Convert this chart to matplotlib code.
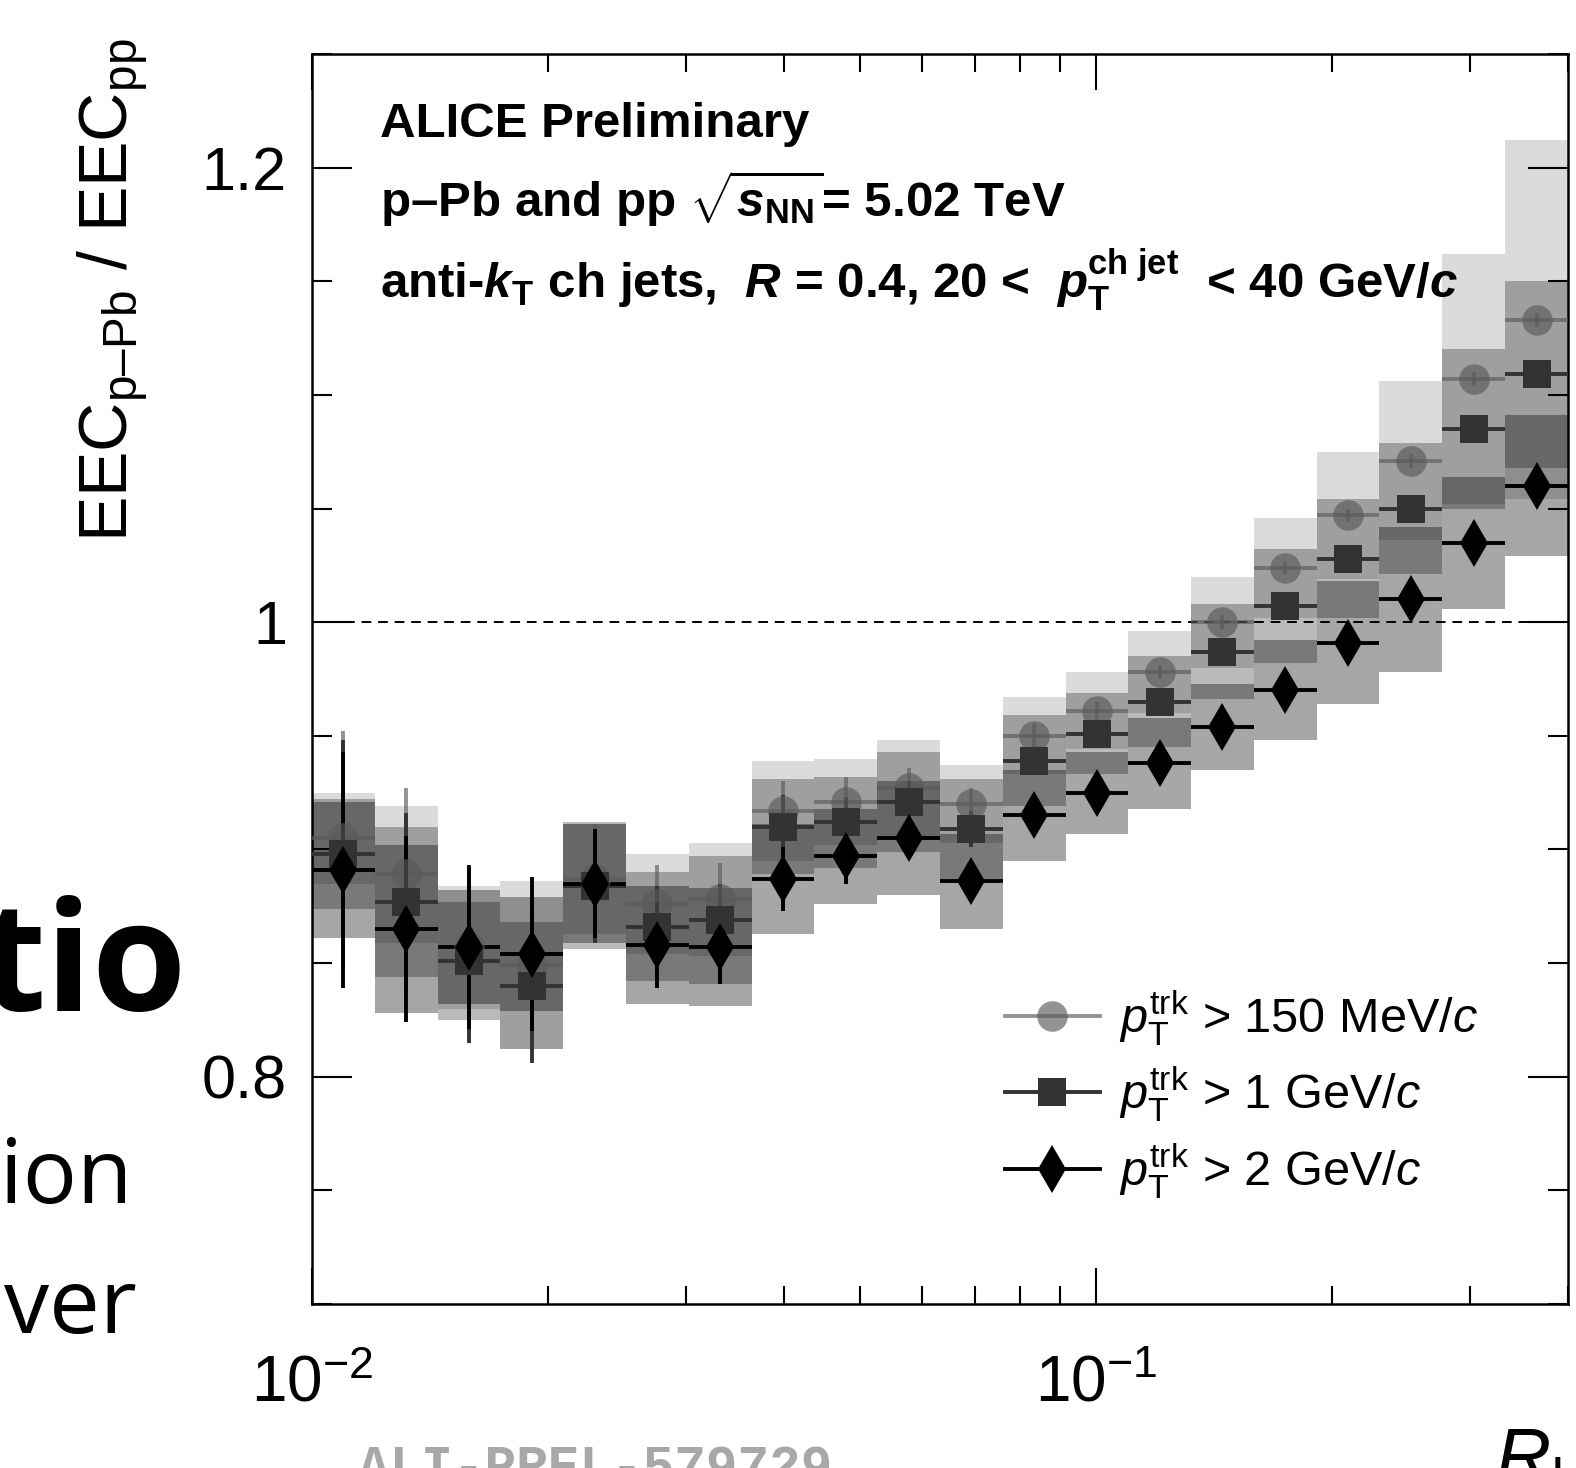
import numpy as np
import matplotlib
matplotlib.use('Agg')
import matplotlib.pyplot as plt
from matplotlib.lines import Line2D
from matplotlib.ticker import FixedLocator, FixedFormatter, NullFormatter, LogLocator, MultipleLocator

plt.rcParams['font.family'] = ['Liberation Sans', 'DejaVu Sans']
plt.rcParams['mathtext.fontset'] = 'custom'
plt.rcParams['mathtext.rm'] = 'Liberation Sans'
plt.rcParams['mathtext.it'] = 'Liberation Sans:italic'
plt.rcParams['mathtext.bf'] = 'Liberation Sans:bold'
plt.rcParams['mathtext.bfit'] = 'Liberation Sans:bold:italic'
plt.rcParams['axes.unicode_minus'] = False

# bin edges in R_L (20 log bins, 0.01 - 0.4)
edges = [0.0100, 0.01203, 0.01446, 0.01739, 0.02091, 0.02514, 0.03023, 0.03636,
         0.04372, 0.05257, 0.06325, 0.07605, 0.09145, 0.1100, 0.1322, 0.1590,
         0.1912, 0.2299, 0.2765, 0.3325, 0.4000]

# pT trk > 150 MeV/c
c_val = [0.905, 0.889, 0.857, 0.849, 0.887, 0.876, 0.878, 0.917, 0.921, 0.927,
         0.920, 0.950, 0.961, 0.978, 1.000, 1.024, 1.047, 1.071, 1.107, 1.133]
c_stat = [0.047, 0.038, 0.034, 0.030, 0.024, 0.017, 0.016, 0.013, 0.011, 0.009,
          0.007, 0.005, 0.004, 0.003, 0.003, 0.003, 0.003, 0.003, 0.003, 0.003]
c_sys = [0.020, 0.030, 0.027, 0.037, 0.024, 0.022, 0.025, 0.022, 0.019, 0.021,
         0.017, 0.017, 0.017, 0.018, 0.020, 0.022, 0.028, 0.035, 0.055, 0.079]

# pT trk > 1 GeV/c
s_val = [0.898, 0.877, 0.851, 0.840, 0.884, 0.866, 0.869, 0.910, 0.912, 0.921,
         0.909, 0.939, 0.951, 0.965, 0.987, 1.007, 1.028, 1.050, 1.085, 1.109]
s_stat = [0.050, 0.039, 0.036, 0.034, 0.025, 0.018, 0.016, 0.014, 0.011, 0.009,
          0.008, 0.006, 0.005, 0.004, 0.004, 0.003, 0.003, 0.003, 0.003, 0.003]
s_sys = [0.024, 0.033, 0.026, 0.028, 0.028, 0.024, 0.028, 0.021, 0.020, 0.022,
         0.022, 0.020, 0.018, 0.020, 0.021, 0.025, 0.026, 0.029, 0.035, 0.041]

# pT trk > 2 GeV/c
d_val = [0.891, 0.865, 0.857, 0.854, 0.885, 0.858, 0.857, 0.887, 0.897, 0.905,
         0.886, 0.915, 0.925, 0.938, 0.954, 0.970, 0.991, 1.010, 1.035, 1.060]
d_stat = [0.052, 0.041, 0.036, 0.034, 0.024, 0.019, 0.016, 0.014, 0.012, 0.008,
          0.007, 0.005, 0.004, 0.004, 0.003, 0.003, 0.003, 0.003, 0.003, 0.003]
d_sys = [0.030, 0.037, 0.025, 0.025, 0.026, 0.026, 0.026, 0.024, 0.021, 0.025,
         0.021, 0.020, 0.018, 0.020, 0.019, 0.022, 0.027, 0.032, 0.029, 0.031]

labels = [r'$p_{\mathrm{T}}^{\mathrm{trk}}$ > 150 MeV/$c$',
          r'$p_{\mathrm{T}}^{\mathrm{trk}}$ > 1 GeV/$c$',
          r'$p_{\mathrm{T}}^{\mathrm{trk}}$ > 2 GeV/$c$']

W, H = 1576, 1468
fig = plt.figure(figsize=(W / 100, H / 100), dpi=100)
ax = fig.add_axes([312 / W, 1 - 1304 / H, (1568 - 312) / W, (1304 - 54) / H])
ax.set_xscale('log')
ax.set_xlim(0.01, 0.4)
ax.set_ylim(0.7, 1.25)

lo = np.array(edges[:-1])
hi = np.array(edges[1:])
ctr = np.sqrt(lo * hi)

ax.axhline(1.0, color='black', lw=1.4, ls=(0, (5, 3.5)), zorder=1)

series = [
    (c_val, c_stat, c_sys, 'o', '#5a5a5a', 0.65, 22, 0.14),
    (s_val, s_stat, s_sys, 's', '#333333', 1.0, 19.5, 0.27),
    (d_val, d_stat, d_sys, 'd', 'black', 1.0, 24, 0.35),
]

# systematic boxes
for val, stat, sys, mk, col, al, ms, box_a in series:
    val = np.array(val); sys = np.array(sys)
    ax.bar(lo, 2 * sys, bottom=val - sys, width=hi - lo, align='edge',
           color='black', alpha=box_a, linewidth=0, zorder=2)

# points with stat errors
handles = []
for (val, stat, sys, mk, col, al, ms, box_a), lab in zip(series, labels):
    ax.errorbar(ctr, val, yerr=stat, xerr=[ctr - lo, hi - ctr], fmt=mk, color=col,
                ms=ms, mew=0, elinewidth=2.8, capsize=0, alpha=al, zorder=3)
    handles.append(Line2D([], [], color=col, marker=mk, ms=ms, mew=0, lw=2.8,
                          alpha=al, label=lab))

ax.xaxis.set_major_locator(FixedLocator([0.01, 0.1]))
ax.xaxis.set_major_formatter(FixedFormatter([r'$\mathregular{10^{-2}}$', r'$\mathregular{10^{-1}}$']))
ax.xaxis.set_minor_locator(LogLocator(base=10, subs=np.arange(2, 10)))
ax.xaxis.set_minor_formatter(NullFormatter())
ax.yaxis.set_major_locator(FixedLocator([0.8, 1.0, 1.2]))
ax.yaxis.set_major_formatter(FixedFormatter(['0.8', '1', '1.2']))
ax.yaxis.set_minor_locator(MultipleLocator(0.05))

ax.tick_params(which='both', direction='in', top=True, right=True, width=1.5)
ax.tick_params(axis='y', which='major', length=29, labelsize=44, pad=18)
ax.tick_params(axis='y', which='minor', length=14.5)
ax.tick_params(axis='x', which='major', length=26, labelsize=46, pad=36)
ax.tick_params(axis='x', which='minor', length=13)
for sp in ax.spines.values():
    sp.set_linewidth(1.8)

ax.legend(handles=handles, loc='upper left', bbox_to_anchor=(1005 / W, 1 - 988 / H),
          bbox_transform=fig.transFigure, frameon=False, fontsize=35,
          handlelength=1.95, handletextpad=0.4, labelspacing=0.35,
          borderpad=0, borderaxespad=0)

# axis titles
fig.text(112 / W, 1 - 38 / H, r'EEC$_{\mathregular{p–Pb}}$ / EEC$_{\mathregular{pp}}$',
         rotation=90, ha='center', va='top', fontsize=49)
fig.text(1580 / W, 1 - 1482 / H, r'$R_{\mathrm{L}}$', ha='right', va='baseline', fontsize=55)

# header text
fig.text(380 / W, 1 - 137 / H, 'ALICE Preliminary', fontsize=35.5, fontweight='bold')
fig.text(380 / W, 1 - 217 / H, r'p–Pb and pp $\sqrt{\mathbfit{s}_{\mathbf{NN}}}$= 5.02 TeV',
         fontsize=35.5, fontweight='bold')
fig.text(380 / W, 1 - 297 / H,
         r'anti-$\mathbfit{k}_{\mathbf{T}}$ ch jets,  $\mathbfit{R}$ = 0.4, 20 <  '
         r'$\mathbfit{p}_{\mathbf{T}}^{\mathbf{ch\ jet}}$  < 40 GeV/$\mathbfit{c}$',
         fontsize=35.5, fontweight='bold')

fig.text(358 / W, 1 - 1484 / H, 'ALI-PREL-579729', family='Liberation Mono',
         fontweight='bold', fontsize=38, color='#a8a8a8')

# slide text cut off on the left
fig.text(187 / W, 1 - 1011 / H, 'tio', family=['Open Sans', 'Noto Sans'], fontweight='bold',
         fontsize=110, ha='right')
fig.text(132 / W, 1 - 1203 / H, 'ion', family=['Open Sans', 'Noto Sans'], fontsize=65, ha='right')
fig.text(137 / W, 1 - 1333 / H, 'ver', family=['Open Sans', 'Noto Sans'], fontsize=65, ha='right')

fig.savefig('out.png', dpi=100)
